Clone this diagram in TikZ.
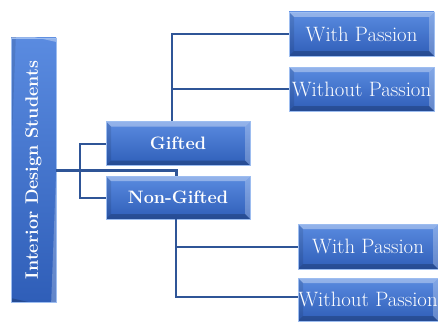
\documentclass[tikz,border=0pt]{standalone}
\usepackage{fontspec}
\usepackage{tikz}
\usetikzlibrary{calc,positioning}

\definecolor{boxtop}{HTML}{5A8BE0}
\definecolor{boxbot}{HTML}{2F5EB8}
\definecolor{boxedge}{HTML}{9DBDF0}
\definecolor{linkblue}{HTML}{2F5597}

\begin{document}
\begin{tikzpicture}
[
	              x = 1pt,
	              y = -1pt,
	  bevelbox/.style = { rectangle, inner sep=0pt, text=white,
	                      top color=boxtop, bottom color=boxbot,
	                      draw=boxedge, line width=0.6pt,
	                      path picture={
	                        \fill[white,opacity=0.35]
	                          (path picture bounding box.north west) -- (path picture bounding box.north east)
	                          -- ([shift={(-5pt,-5pt)}]path picture bounding box.north east)
	                          -- ([shift={(5pt,-5pt)}]path picture bounding box.north west) -- cycle;
	                        \fill[white,opacity=0.25]
	                          (path picture bounding box.north east) -- (path picture bounding box.south east)
	                          -- ([shift={(-5pt,5pt)}]path picture bounding box.south east)
	                          -- ([shift={(-5pt,-5pt)}]path picture bounding box.north east) -- cycle;
	                        \fill[black,opacity=0.2]
	                          (path picture bounding box.south west) -- (path picture bounding box.south east)
	                          -- ([shift={(-5pt,5pt)}]path picture bounding box.south east)
	                          -- ([shift={(5pt,5pt)}]path picture bounding box.south west) -- cycle;
	                        \fill[black,opacity=0.1]
	                          (path picture bounding box.north west) -- (path picture bounding box.south west)
	                          -- ([shift={(5pt,5pt)}]path picture bounding box.south west)
	                          -- ([shift={(5pt,-5pt)}]path picture bounding box.north west) -- cycle;
	                      } },
	  groupbox/.style = { bevelbox, minimum width=144pt, minimum height=44pt,
	                      font=\fontsize{18}{20}\selectfont\bfseries },
	  leafbox/.style  = { bevelbox, minimum height=44pt,
	                      font=\fontsize{20.8}{23}\selectfont },
	  link/.style     = { draw=linkblue, line width=2pt },
	  trunk/.style    = { draw=linkblue, line width=3pt }
]
	\useasboundingbox (0,0) rectangle (438,321);

	% nodes
	\node (students) at (33.5,170) [bevelbox, rotate=90, minimum width=264pt, minimum height=45pt,
	                                 font=\fontsize{18}{20}\selectfont\bfseries] {Interior Design Students};

	\node (gifted)    at (178,143.5) [groupbox] {Gifted};
	\node (nongifted) at (178,197.5) [groupbox, minimum height=43pt] {Non-Gifted};

	\node (gwith)    at (361.5,34) [leafbox, minimum width=145pt] {With Passion};
	\node (gwithout) at (361.5,89) [leafbox, minimum width=145pt] {Without Passion};

	\node (nwith)    at (368,246.5) [leafbox, minimum width=140pt, minimum height=45pt] {With Passion};
	\node (nwithout) at (368,299.5) [leafbox, minimum width=140pt, minimum height=43pt] {Without Passion};

	% edges
	\draw [link] ([xshift=-6pt]gifted.north) |- (gwith.west);
	\draw [link] ([xshift=-6pt]gifted.north) |- (gwithout.west);
	\draw [link] ([xshift=-2pt]nongifted.south) |- (nwith.west);
	\draw [link] ([xshift=-2pt]nongifted.south) |- ([yshift=2.5pt]nwithout.west);
	\draw [link] (gifted.west) -- ++(-26,0) |- (nongifted.west);
	\draw [trunk] (students.south) -| ([xshift=-2pt]nongifted.north);

\end{tikzpicture}
\end{document}
